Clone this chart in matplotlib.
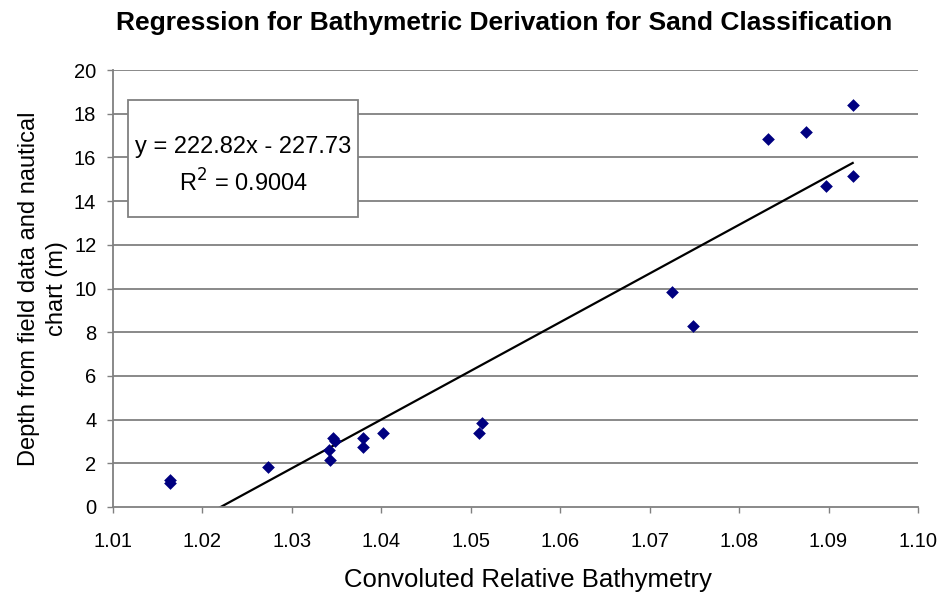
import numpy as np
import matplotlib
matplotlib.use('agg')
import matplotlib.pyplot as plt
from matplotlib.patches import Rectangle

# values
relBathy = [1.0164, 1.0164, 1.0273, 1.0341, 1.0343, 1.0346, 1.0348,
            1.0379, 1.0379, 1.0402, 1.0509, 1.0513,
            1.0725, 1.0749, 1.0832, 1.0875, 1.0897, 1.0927, 1.0927]
depth = [1.1, 1.25, 1.84, 2.61, 2.15, 3.14, 3.03,
         3.14, 2.76, 3.40, 3.37, 3.86,
         9.83, 8.30, 16.83, 17.15, 14.71, 15.15, 18.40]
slope, intercept = 222.82, -227.73
rSquared = 0.9004
xTicks = [1.01, 1.02, 1.03, 1.04, 1.05, 1.06, 1.07, 1.08, 1.09, 1.10]
yTicks = list(range(0, 21, 2))

plt.rcParams['font.family'] = ['Liberation Sans', 'DejaVu Sans']

fig = plt.figure(figsize=(9.45, 5.94), dpi=100)
ax = fig.add_axes([113 / 945, 1 - 507 / 594, (918 - 113) / 945, (507 - 70) / 594])

for y in yTicks[1:]:
    ax.axhline(y, color='#808080', lw=1.3, zorder=1)

ax.scatter(relBathy, depth, marker='D', s=42, color='#000080', zorder=3, linewidths=0)

lineX = np.array([min(relBathy), max(relBathy)])
ax.plot(lineX, slope * lineX + intercept, color='black', lw=1.6, zorder=2)

ax.set_xlim(1.01, 1.10)
ax.set_ylim(0, 20)
ax.set_xticks(xTicks)
ax.set_xticklabels(['%.2f' % t for t in xTicks])
ax.set_yticks(yTicks)
ax.tick_params(direction='out', length=4, width=1, color='#808080', labelsize=14.5)
ax.tick_params(axis='x', pad=14)
ax.tick_params(axis='y', pad=8)

for side in ['top', 'right']:
    ax.spines[side].set_visible(False)
for side in ['left', 'bottom']:
    ax.spines[side].set_color('#808080')
    ax.spines[side].set_linewidth(1.3)

ax.set_xlabel('Convoluted Relative Bathymetry', fontsize=18.5)
ax.xaxis.set_label_coords(0.5155, -0.167)
ax.xaxis.label.set_va('center')
ax.set_ylabel('Depth from field data and nautical\nchart (m)', fontsize=17,
              labelpad=4, linespacing=1.35)
fig.text(504 / 945, 1 - 23 / 594, 'Regression for Bathymetric Derivation for Sand Classification',
         ha='center', va='center', fontsize=19, fontweight='bold')

# equation box
ax.add_patch(Rectangle((0.0186, 0.664), 0.2857, 0.267, transform=ax.transAxes,
                       facecolor='white', edgecolor='#808080', lw=1.3, zorder=4))
eqText = 'y = %.2fx - %.2f\nR$^2$ = %.4f' % (slope, -intercept, rSquared)
ax.text(0.1615, 0.78, eqText, transform=ax.transAxes, ha='center', va='center',
        fontsize=17, linespacing=1.5, zorder=5)

fig.savefig('out.png', dpi=100)
